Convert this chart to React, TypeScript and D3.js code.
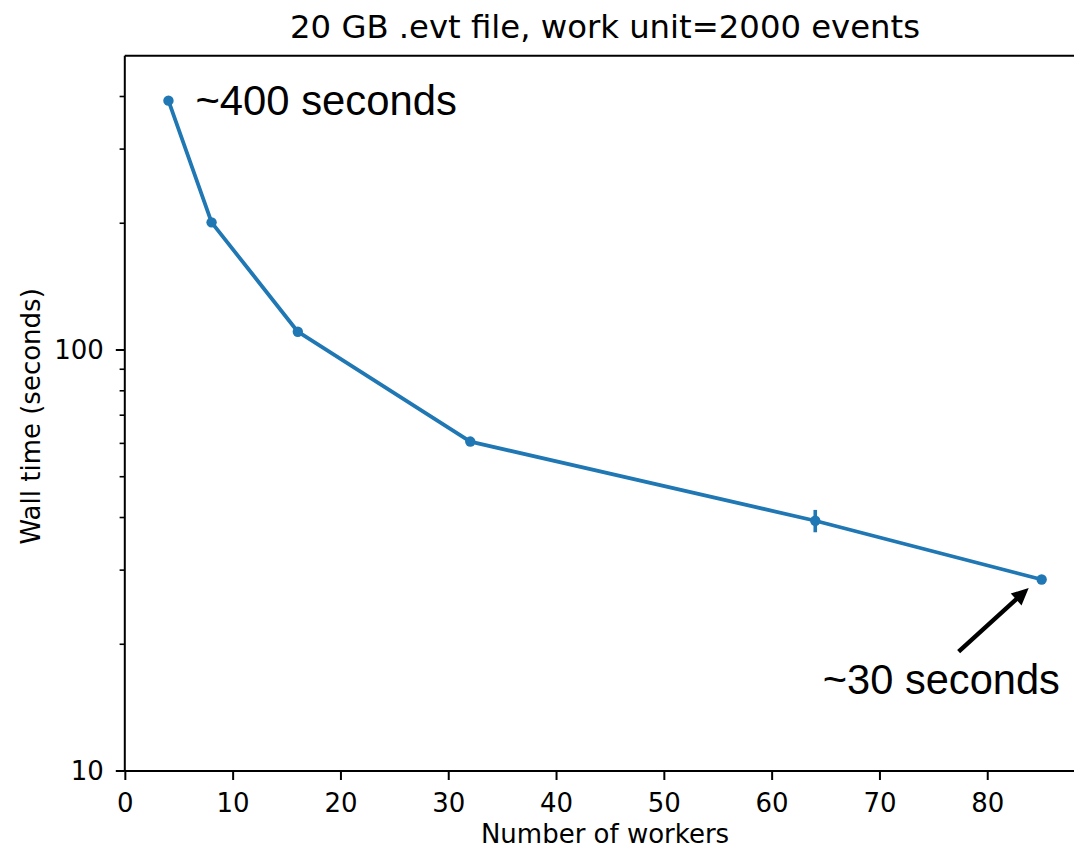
import React from "react";
import * as d3 from "d3";

const workers = [4, 8, 16, 32, 64, 85];
const wallTime = [391, 201, 110.5, 60.6, 39.3, 28.5];
const wallErr = [0, 0, 0, 0.8, 2.4, 0];
const xTicks = [0, 10, 20, 30, 40, 50, 60, 70, 80];
const yMajor = [10, 100];
const yMinor = [20, 30, 40, 50, 60, 70, 80, 90, 200, 300, 400];

const W = 1074;
const H = 849;
const C0 = "#1f77b4";
const FONT = "'DejaVu Sans', sans-serif";
const ARIAL = "'Liberation Sans', Arial, sans-serif";

export default function App() {
  const x = d3.scaleLinear().domain([-0.05, 89.05]).range([124.8, 1085.3]);
  const y = d3.scaleLog().domain([10, 500]).range([771, 55.7]);
  const left = x.range()[0];
  const right = x.range()[1];
  const top = y.range()[1];
  const bottom = y.range()[0];

  const pts = workers.map((w, i) => [w, wallTime[i]] as [number, number]);
  const line = d3
    .line<[number, number]>()
    .x((d) => x(d[0]))
    .y((d) => y(d[1]));

  // arrow geometry (data coords)
  const tail = [x(77.3), y(19.2)];
  const tip = [x(83.8), y(27.2)];
  const dx = tip[0] - tail[0];
  const dy = tip[1] - tail[1];
  const len = Math.hypot(dx, dy);
  const ux = dx / len;
  const uy = dy / len;
  const nx = -uy;
  const ny = ux;
  const headL = 17;
  const headW = 8;
  const shaftW = 2.2;
  const bx = tip[0] - ux * headL;
  const by = tip[1] - uy * headL;
  const arrowPts = [
    [tail[0] + nx * shaftW, tail[1] + ny * shaftW],
    [bx + nx * shaftW, by + ny * shaftW],
    [bx + nx * headW, by + ny * headW],
    [tip[0], tip[1]],
    [bx - nx * headW, by - ny * headW],
    [bx - nx * shaftW, by - ny * shaftW],
    [tail[0] - nx * shaftW, tail[1] - ny * shaftW],
  ];

  return (
    <div style={{ position: "absolute", left: 0, top: 0 }}>
      <svg width={W} height={H} style={{ display: "block", background: "#fff" }}>
        <text
          x={(left + right) / 2}
          y={38}
          textAnchor="middle"
          fontFamily={FONT}
          fontSize={32.3}
          fill="#000"
        >
          20 GB .evt file, work unit=2000 events
        </text>

        {/* data line */}
        <path d={line(pts) || ""} fill="none" stroke={C0} strokeWidth={3.8} strokeLinejoin="round" />
        {pts.map((p, i) =>
          wallErr[i] > 0 ? (
            <line
              key={"e" + i}
              x1={x(p[0])}
              x2={x(p[0])}
              y1={y(p[1] + wallErr[i])}
              y2={y(p[1] - wallErr[i])}
              stroke={C0}
              strokeWidth={3.6}
            />
          ) : null
        )}
        {pts.map((p, i) => (
          <circle key={"m" + i} cx={x(p[0])} cy={y(p[1])} r={5.2} fill={C0} />
        ))}

        {/* spines */}
        <line x1={left} x2={left} y1={top} y2={bottom} stroke="#000" strokeWidth={2} />
        <line x1={left} x2={right} y1={bottom} y2={bottom} stroke="#000" strokeWidth={2} />
        <line x1={left} x2={right} y1={top} y2={top} stroke="#000" strokeWidth={2} />
        <line x1={right} x2={right} y1={top} y2={bottom} stroke="#000" strokeWidth={2} />

        {/* x ticks */}
        {xTicks.map((t) => (
          <g key={"x" + t}>
            <line x1={x(t)} x2={x(t)} y1={bottom} y2={bottom + 9} stroke="#000" strokeWidth={2} />
            <text
              x={x(t)}
              y={812}
              textAnchor="middle"
              fontFamily={FONT}
              fontSize={26}
              fill="#000"
            >
              {t}
            </text>
          </g>
        ))}
        <text
          x={(left + right) / 2}
          y={843}
          textAnchor="middle"
          fontFamily={FONT}
          fontSize={26}
          fill="#000"
        >
          Number of workers
        </text>

        {/* y ticks */}
        {yMajor.map((t) => (
          <g key={"y" + t}>
            <line x1={left - 9} x2={left} y1={y(t)} y2={y(t)} stroke="#000" strokeWidth={2} />
            <text
              x={left - 21}
              y={y(t)}
              dy="0.36em"
              textAnchor="end"
              fontFamily={FONT}
              fontSize={26}
              fill="#000"
            >
              {t}
            </text>
          </g>
        ))}
        {yMinor.map((t) => (
          <line key={"ym" + t} x1={left - 5.2} x2={left} y1={y(t)} y2={y(t)} stroke="#000" strokeWidth={1.6} />
        ))}
        <text
          transform={`translate(40, ${(top + bottom) / 2 + 3}) rotate(-90)`}
          textAnchor="middle"
          fontFamily={FONT}
          fontSize={26}
          fill="#000"
        >
          Wall time (seconds)
        </text>

        {/* annotations */}
        <text x={x(6.5)} y={y(361)} fontFamily={ARIAL} fontSize={41.8} fill="#000">
          ~400 seconds
        </text>
        <text x={x(64.7)} y={y(15.2)} fontFamily={ARIAL} fontSize={41.6} fill="#000">
          ~30 seconds
        </text>
        <polygon points={arrowPts.map((p) => p.join(",")).join(" ")} fill="#000" />
      </svg>
    </div>
  );
}
